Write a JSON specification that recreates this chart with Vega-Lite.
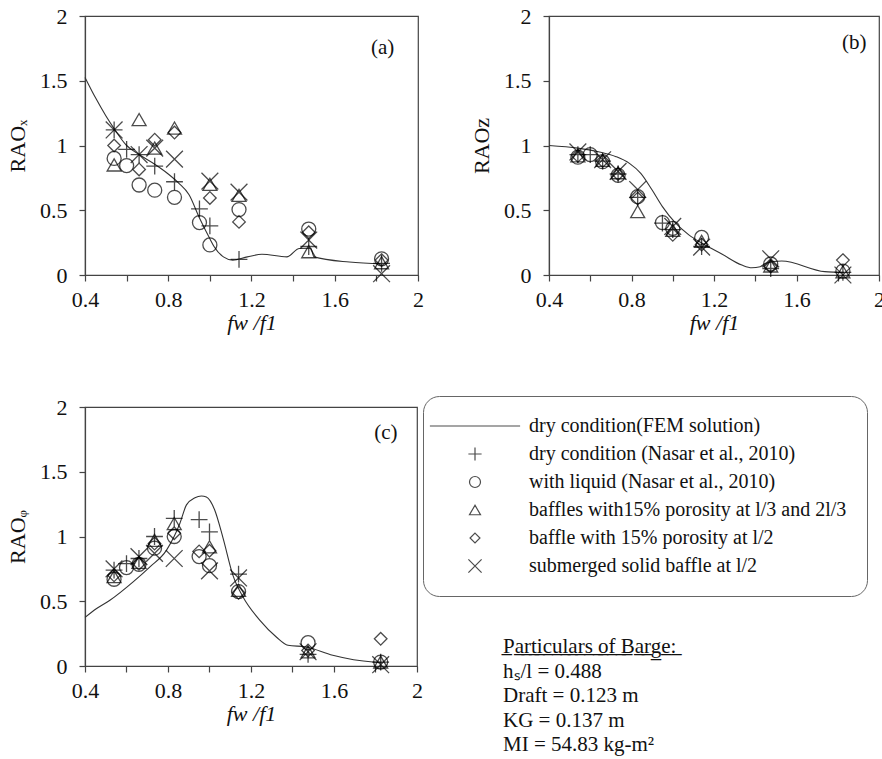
{
  "$schema": "https://vega.github.io/schema/vega-lite/v6.json",
  "autosize": {"type": "none"},
  "padding": {"left": 85, "top": 16, "right": 797, "bottom": 743},
  "background": "white",
  "config": {
    "font": "Liberation Serif",
    "view": {"stroke": "#444", "strokeWidth": 1.2},
    "axis": {
      "labelFont": "Liberation Serif", "labelFontSize": 22, "labelColor": "#111", "labelFlush": false, "labelOverlap": false,
      "titleFont": "Liberation Serif", "titleFontSize": 22, "titleFontWeight": "normal", "titleColor": "#111",
      "domainColor": "#444", "domainWidth": 1.2, "tickColor": "#444", "tickWidth": 1.2, "tickSize": 6,
      "grid": false
    },
    "axisX": {"titlePadding": 2, "labelPadding": 8},
    "axisY": {"titlePadding": 10, "labelPadding": 12}
  },
  "datasets": {
    "fem": [
      {"p": "a", "f": 0.4, "r": 1.526}, {"p": "a", "f": 0.45, "r": 1.37}, {"p": "a", "f": 0.5, "r": 1.23},
      {"p": "a", "f": 0.54, "r": 1.13}, {"p": "a", "f": 0.6, "r": 1.0}, {"p": "a", "f": 0.66, "r": 0.93},
      {"p": "a", "f": 0.735, "r": 0.855}, {"p": "a", "f": 0.8, "r": 0.78}, {"p": "a", "f": 0.85, "r": 0.71},
      {"p": "a", "f": 0.9, "r": 0.62}, {"p": "a", "f": 0.95, "r": 0.44}, {"p": "a", "f": 1.0, "r": 0.28},
      {"p": "a", "f": 1.02, "r": 0.22}, {"p": "a", "f": 1.065, "r": 0.14}, {"p": "a", "f": 1.11, "r": 0.115},
      {"p": "a", "f": 1.18, "r": 0.14}, {"p": "a", "f": 1.25, "r": 0.16}, {"p": "a", "f": 1.37, "r": 0.14},
      {"p": "a", "f": 1.43, "r": 0.205}, {"p": "a", "f": 1.485, "r": 0.206}, {"p": "a", "f": 1.5, "r": 0.14},
      {"p": "a", "f": 1.67, "r": 0.1}, {"p": "a", "f": 1.83, "r": 0.085},

      {"p": "b", "f": 0.4, "r": 1.0}, {"p": "b", "f": 0.54, "r": 0.98}, {"p": "b", "f": 0.64, "r": 0.952},
      {"p": "b", "f": 0.725, "r": 0.914}, {"p": "b", "f": 0.79, "r": 0.862}, {"p": "b", "f": 0.845, "r": 0.785},
      {"p": "b", "f": 0.9, "r": 0.656}, {"p": "b", "f": 0.95, "r": 0.528}, {"p": "b", "f": 1.014, "r": 0.4},
      {"p": "b", "f": 1.078, "r": 0.31}, {"p": "b", "f": 1.142, "r": 0.245}, {"p": "b", "f": 1.24, "r": 0.16},
      {"p": "b", "f": 1.335, "r": 0.077}, {"p": "b", "f": 1.383, "r": 0.056}, {"p": "b", "f": 1.424, "r": 0.064},
      {"p": "b", "f": 1.45, "r": 0.09}, {"p": "b", "f": 1.528, "r": 0.108}, {"p": "b", "f": 1.737, "r": 0.026},
      {"p": "b", "f": 1.785, "r": 0.022}, {"p": "b", "f": 1.83, "r": 0.02},

      {"p": "c", "f": 0.4, "r": 0.375}, {"p": "c", "f": 0.456, "r": 0.444}, {"p": "c", "f": 0.52, "r": 0.508},
      {"p": "c", "f": 0.632, "r": 0.65}, {"p": "c", "f": 0.713, "r": 0.766}, {"p": "c", "f": 0.793, "r": 0.895},
      {"p": "c", "f": 0.857, "r": 1.1}, {"p": "c", "f": 0.889, "r": 1.244}, {"p": "c", "f": 0.93, "r": 1.3},
      {"p": "c", "f": 0.961, "r": 1.313}, {"p": "c", "f": 0.985, "r": 1.305}, {"p": "c", "f": 1.025, "r": 1.205},
      {"p": "c", "f": 1.065, "r": 0.99}, {"p": "c", "f": 1.113, "r": 0.7}, {"p": "c", "f": 1.161, "r": 0.534},
      {"p": "c", "f": 1.242, "r": 0.354}, {"p": "c", "f": 1.322, "r": 0.224}, {"p": "c", "f": 1.378, "r": 0.16},
      {"p": "c", "f": 1.466, "r": 0.147}, {"p": "c", "f": 1.594, "r": 0.083}, {"p": "c", "f": 1.787, "r": 0.031},
      {"p": "c", "f": 1.83, "r": 0.028}
    ],
    "pts": [
      {"p": "a", "s": "dry condition (Nasar et al., 2010)", "f": 0.54, "r": 1.12},
      {"p": "a", "s": "dry condition (Nasar et al., 2010)", "f": 0.6, "r": 0.97},
      {"p": "a", "s": "dry condition (Nasar et al., 2010)", "f": 0.66, "r": 0.93},
      {"p": "a", "s": "dry condition (Nasar et al., 2010)", "f": 0.735, "r": 0.84},
      {"p": "a", "s": "dry condition (Nasar et al., 2010)", "f": 0.83, "r": 0.72},
      {"p": "a", "s": "dry condition (Nasar et al., 2010)", "f": 0.95, "r": 0.51},
      {"p": "a", "s": "dry condition (Nasar et al., 2010)", "f": 1.0, "r": 0.38},
      {"p": "a", "s": "dry condition (Nasar et al., 2010)", "f": 1.14, "r": 0.12},
      {"p": "a", "s": "dry condition (Nasar et al., 2010)", "f": 1.475, "r": 0.22},
      {"p": "a", "s": "dry condition (Nasar et al., 2010)", "f": 1.825, "r": 0.09},
      {"p": "a", "s": "with liquid (Nasar et al., 2010)", "f": 0.54, "r": 0.9},
      {"p": "a", "s": "with liquid (Nasar et al., 2010)", "f": 0.6, "r": 0.845},
      {"p": "a", "s": "with liquid (Nasar et al., 2010)", "f": 0.66, "r": 0.695},
      {"p": "a", "s": "with liquid (Nasar et al., 2010)", "f": 0.735, "r": 0.655},
      {"p": "a", "s": "with liquid (Nasar et al., 2010)", "f": 0.83, "r": 0.6},
      {"p": "a", "s": "with liquid (Nasar et al., 2010)", "f": 0.95, "r": 0.405},
      {"p": "a", "s": "with liquid (Nasar et al., 2010)", "f": 1.0, "r": 0.232},
      {"p": "a", "s": "with liquid (Nasar et al., 2010)", "f": 1.14, "r": 0.505},
      {"p": "a", "s": "with liquid (Nasar et al., 2010)", "f": 1.475, "r": 0.355},
      {"p": "a", "s": "with liquid (Nasar et al., 2010)", "f": 1.825, "r": 0.125},
      {"p": "a", "s": "baffles with15% porosity at l/3 and 2l/3", "f": 0.54, "r": 0.85},
      {"p": "a", "s": "baffles with15% porosity at l/3 and 2l/3", "f": 0.66, "r": 1.2},
      {"p": "a", "s": "baffles with15% porosity at l/3 and 2l/3", "f": 0.735, "r": 0.98},
      {"p": "a", "s": "baffles with15% porosity at l/3 and 2l/3", "f": 0.83, "r": 1.135},
      {"p": "a", "s": "baffles with15% porosity at l/3 and 2l/3", "f": 1.0, "r": 0.7},
      {"p": "a", "s": "baffles with15% porosity at l/3 and 2l/3", "f": 1.14, "r": 0.615},
      {"p": "a", "s": "baffles with15% porosity at l/3 and 2l/3", "f": 1.475, "r": 0.18},
      {"p": "a", "s": "baffles with15% porosity at l/3 and 2l/3", "f": 1.825, "r": 0.095},
      {"p": "a", "s": "baffle with 15% porosity at l/2", "f": 0.54, "r": 1.0},
      {"p": "a", "s": "baffle with 15% porosity at l/2", "f": 0.66, "r": 0.815},
      {"p": "a", "s": "baffle with 15% porosity at l/2", "f": 0.735, "r": 1.045},
      {"p": "a", "s": "baffle with 15% porosity at l/2", "f": 0.83, "r": 1.1},
      {"p": "a", "s": "baffle with 15% porosity at l/2", "f": 1.0, "r": 0.595},
      {"p": "a", "s": "baffle with 15% porosity at l/2", "f": 1.14, "r": 0.41},
      {"p": "a", "s": "baffle with 15% porosity at l/2", "f": 1.475, "r": 0.33},
      {"p": "a", "s": "baffle with 15% porosity at l/2", "f": 1.825, "r": 0.115},
      {"p": "a", "s": "submerged solid baffle at l/2", "f": 0.54, "r": 1.12},
      {"p": "a", "s": "submerged solid baffle at l/2", "f": 0.66, "r": 0.93},
      {"p": "a", "s": "submerged solid baffle at l/2", "f": 0.735, "r": 0.98},
      {"p": "a", "s": "submerged solid baffle at l/2", "f": 0.83, "r": 0.895},
      {"p": "a", "s": "submerged solid baffle at l/2", "f": 1.0, "r": 0.725},
      {"p": "a", "s": "submerged solid baffle at l/2", "f": 1.14, "r": 0.64},
      {"p": "a", "s": "submerged solid baffle at l/2", "f": 1.475, "r": 0.27},
      {"p": "a", "s": "submerged solid baffle at l/2", "f": 1.825, "r": 0.01},

      {"p": "b", "s": "dry condition (Nasar et al., 2010)", "f": 0.54, "r": 0.93},
      {"p": "b", "s": "dry condition (Nasar et al., 2010)", "f": 0.6, "r": 0.93},
      {"p": "b", "s": "dry condition (Nasar et al., 2010)", "f": 0.66, "r": 0.88},
      {"p": "b", "s": "dry condition (Nasar et al., 2010)", "f": 0.735, "r": 0.78},
      {"p": "b", "s": "dry condition (Nasar et al., 2010)", "f": 0.83, "r": 0.6},
      {"p": "b", "s": "dry condition (Nasar et al., 2010)", "f": 0.95, "r": 0.4},
      {"p": "b", "s": "dry condition (Nasar et al., 2010)", "f": 1.0, "r": 0.35},
      {"p": "b", "s": "dry condition (Nasar et al., 2010)", "f": 1.14, "r": 0.22},
      {"p": "b", "s": "dry condition (Nasar et al., 2010)", "f": 1.475, "r": 0.05},
      {"p": "b", "s": "dry condition (Nasar et al., 2010)", "f": 1.825, "r": 0.02},
      {"p": "b", "s": "with liquid (Nasar et al., 2010)", "f": 0.54, "r": 0.91},
      {"p": "b", "s": "with liquid (Nasar et al., 2010)", "f": 0.6, "r": 0.93},
      {"p": "b", "s": "with liquid (Nasar et al., 2010)", "f": 0.66, "r": 0.875},
      {"p": "b", "s": "with liquid (Nasar et al., 2010)", "f": 0.735, "r": 0.77},
      {"p": "b", "s": "with liquid (Nasar et al., 2010)", "f": 0.83, "r": 0.605},
      {"p": "b", "s": "with liquid (Nasar et al., 2010)", "f": 0.95, "r": 0.405},
      {"p": "b", "s": "with liquid (Nasar et al., 2010)", "f": 1.0, "r": 0.36},
      {"p": "b", "s": "with liquid (Nasar et al., 2010)", "f": 1.14, "r": 0.29},
      {"p": "b", "s": "with liquid (Nasar et al., 2010)", "f": 1.475, "r": 0.085},
      {"p": "b", "s": "with liquid (Nasar et al., 2010)", "f": 1.825, "r": 0.03},
      {"p": "b", "s": "baffles with15% porosity at l/3 and 2l/3", "f": 0.54, "r": 0.92},
      {"p": "b", "s": "baffles with15% porosity at l/3 and 2l/3", "f": 0.66, "r": 0.885},
      {"p": "b", "s": "baffles with15% porosity at l/3 and 2l/3", "f": 0.735, "r": 0.79},
      {"p": "b", "s": "baffles with15% porosity at l/3 and 2l/3", "f": 0.83, "r": 0.49},
      {"p": "b", "s": "baffles with15% porosity at l/3 and 2l/3", "f": 1.0, "r": 0.345},
      {"p": "b", "s": "baffles with15% porosity at l/3 and 2l/3", "f": 1.14, "r": 0.26},
      {"p": "b", "s": "baffles with15% porosity at l/3 and 2l/3", "f": 1.475, "r": 0.07},
      {"p": "b", "s": "baffles with15% porosity at l/3 and 2l/3", "f": 1.825, "r": 0.025},
      {"p": "b", "s": "baffle with 15% porosity at l/2", "f": 0.54, "r": 0.92},
      {"p": "b", "s": "baffle with 15% porosity at l/2", "f": 0.66, "r": 0.88},
      {"p": "b", "s": "baffle with 15% porosity at l/2", "f": 0.735, "r": 0.78},
      {"p": "b", "s": "baffle with 15% porosity at l/2", "f": 0.83, "r": 0.59},
      {"p": "b", "s": "baffle with 15% porosity at l/2", "f": 1.0, "r": 0.31},
      {"p": "b", "s": "baffle with 15% porosity at l/2", "f": 1.14, "r": 0.235},
      {"p": "b", "s": "baffle with 15% porosity at l/2", "f": 1.475, "r": 0.065},
      {"p": "b", "s": "baffle with 15% porosity at l/2", "f": 1.825, "r": 0.115},
      {"p": "b", "s": "submerged solid baffle at l/2", "f": 0.54, "r": 0.95},
      {"p": "b", "s": "submerged solid baffle at l/2", "f": 0.66, "r": 0.89},
      {"p": "b", "s": "submerged solid baffle at l/2", "f": 0.735, "r": 0.8},
      {"p": "b", "s": "submerged solid baffle at l/2", "f": 0.83, "r": 0.66},
      {"p": "b", "s": "submerged solid baffle at l/2", "f": 1.0, "r": 0.375},
      {"p": "b", "s": "submerged solid baffle at l/2", "f": 1.14, "r": 0.215},
      {"p": "b", "s": "submerged solid baffle at l/2", "f": 1.475, "r": 0.125},
      {"p": "b", "s": "submerged solid baffle at l/2", "f": 1.825, "r": 0.0},

      {"p": "c", "s": "dry condition (Nasar et al., 2010)", "f": 0.54, "r": 0.74},
      {"p": "c", "s": "dry condition (Nasar et al., 2010)", "f": 0.6, "r": 0.79},
      {"p": "c", "s": "dry condition (Nasar et al., 2010)", "f": 0.66, "r": 0.83},
      {"p": "c", "s": "dry condition (Nasar et al., 2010)", "f": 0.735, "r": 1.0},
      {"p": "c", "s": "dry condition (Nasar et al., 2010)", "f": 0.83, "r": 1.14},
      {"p": "c", "s": "dry condition (Nasar et al., 2010)", "f": 0.95, "r": 1.13},
      {"p": "c", "s": "dry condition (Nasar et al., 2010)", "f": 1.0, "r": 1.035},
      {"p": "c", "s": "dry condition (Nasar et al., 2010)", "f": 1.14, "r": 0.71},
      {"p": "c", "s": "dry condition (Nasar et al., 2010)", "f": 1.475, "r": 0.09},
      {"p": "c", "s": "dry condition (Nasar et al., 2010)", "f": 1.825, "r": 0.03},
      {"p": "c", "s": "with liquid (Nasar et al., 2010)", "f": 0.54, "r": 0.67},
      {"p": "c", "s": "with liquid (Nasar et al., 2010)", "f": 0.6, "r": 0.76},
      {"p": "c", "s": "with liquid (Nasar et al., 2010)", "f": 0.66, "r": 0.785},
      {"p": "c", "s": "with liquid (Nasar et al., 2010)", "f": 0.735, "r": 0.91},
      {"p": "c", "s": "with liquid (Nasar et al., 2010)", "f": 0.83, "r": 1.0},
      {"p": "c", "s": "with liquid (Nasar et al., 2010)", "f": 0.95, "r": 0.845},
      {"p": "c", "s": "with liquid (Nasar et al., 2010)", "f": 1.0, "r": 0.775},
      {"p": "c", "s": "with liquid (Nasar et al., 2010)", "f": 1.14, "r": 0.575},
      {"p": "c", "s": "with liquid (Nasar et al., 2010)", "f": 1.475, "r": 0.18},
      {"p": "c", "s": "with liquid (Nasar et al., 2010)", "f": 1.825, "r": 0.03},
      {"p": "c", "s": "baffles with15% porosity at l/3 and 2l/3", "f": 0.54, "r": 0.69},
      {"p": "c", "s": "baffles with15% porosity at l/3 and 2l/3", "f": 0.66, "r": 0.8},
      {"p": "c", "s": "baffles with15% porosity at l/3 and 2l/3", "f": 0.735, "r": 0.97},
      {"p": "c", "s": "baffles with15% porosity at l/3 and 2l/3", "f": 0.83, "r": 1.1},
      {"p": "c", "s": "baffles with15% porosity at l/3 and 2l/3", "f": 1.0, "r": 0.92},
      {"p": "c", "s": "baffles with15% porosity at l/3 and 2l/3", "f": 1.14, "r": 0.585},
      {"p": "c", "s": "baffles with15% porosity at l/3 and 2l/3", "f": 1.475, "r": 0.11},
      {"p": "c", "s": "baffles with15% porosity at l/3 and 2l/3", "f": 1.825, "r": 0.03},
      {"p": "c", "s": "baffle with 15% porosity at l/2", "f": 0.54, "r": 0.7},
      {"p": "c", "s": "baffle with 15% porosity at l/2", "f": 0.66, "r": 0.79},
      {"p": "c", "s": "baffle with 15% porosity at l/2", "f": 0.735, "r": 0.945},
      {"p": "c", "s": "baffle with 15% porosity at l/2", "f": 0.83, "r": 1.025},
      {"p": "c", "s": "baffle with 15% porosity at l/2", "f": 0.95, "r": 0.885},
      {"p": "c", "s": "baffle with 15% porosity at l/2", "f": 1.0, "r": 0.89},
      {"p": "c", "s": "baffle with 15% porosity at l/2", "f": 1.14, "r": 0.565},
      {"p": "c", "s": "baffle with 15% porosity at l/2", "f": 1.475, "r": 0.12},
      {"p": "c", "s": "baffle with 15% porosity at l/2", "f": 1.825, "r": 0.21},
      {"p": "c", "s": "submerged solid baffle at l/2", "f": 0.54, "r": 0.75},
      {"p": "c", "s": "submerged solid baffle at l/2", "f": 0.66, "r": 0.845},
      {"p": "c", "s": "submerged solid baffle at l/2", "f": 0.735, "r": 0.87},
      {"p": "c", "s": "submerged solid baffle at l/2", "f": 0.83, "r": 0.83},
      {"p": "c", "s": "submerged solid baffle at l/2", "f": 1.0, "r": 0.735},
      {"p": "c", "s": "submerged solid baffle at l/2", "f": 1.14, "r": 0.68},
      {"p": "c", "s": "submerged solid baffle at l/2", "f": 1.475, "r": 0.11},
      {"p": "c", "s": "submerged solid baffle at l/2", "f": 1.825, "r": 0.01}
    ],
    "barge": [
      {"line": 1, "text": "P̲a̲r̲t̲i̲c̲u̲l̲a̲r̲s̲ ̲o̲f̲ ̲B̲a̲r̲g̲e̲:̲"},
      {"line": 2, "text": "hₛ/l = 0.488"},
      {"line": 3, "text": "Draft = 0.123 m"},
      {"line": 4, "text": "KG = 0.137 m"},
      {"line": 5, "text": "MI = 54.83 kg-m²"}
    ]
  },
  "columns": 2,
  "spacing": {"row": 132, "column": 131},
  "bounds": "flush",
  "concat": [
    {
      "width": 333, "height": 259,
      "layer": [
        {
          "data": {"name": "fem"},
          "transform": [{"filter": "datum.p === 'a'"}],
          "mark": {"type": "line", "color": "#333", "strokeWidth": 1.1, "interpolate": "monotone"},
          "encoding": {
            "x": {"field": "f", "type": "quantitative", "title": "fw /f1",
              "scale": {"domain": [0.4, 2], "nice": false, "zero": false},
              "axis": {"values": [0.4, 0.6, 0.8, 1.0, 1.2, 1.4, 1.6, 1.8, 2.0], "titleFontStyle": "italic",
                "labelExpr": "round(datum.value * 10) % 4 == 0 ? format(datum.value, '~g') : ''"}},
            "y": {"field": "r", "type": "quantitative", "title": "RAOₓ",
              "scale": {"domain": [0, 2], "nice": false},
              "axis": {"values": [0, 0.25, 0.5, 0.75, 1, 1.25, 1.5, 1.75, 2],
                "labelExpr": "round(datum.value * 4) % 2 == 0 ? format(datum.value, '~g') : ''"}}
          }
        },
        {
          "data": {"name": "pts"},
          "transform": [{"filter": "datum.p === 'a'"}],
          "mark": {"type": "point", "filled": false, "color": "black", "size": 196, "strokeWidth": 1.3},
          "encoding": {
            "x": {"field": "f", "type": "quantitative"},
            "y": {"field": "r", "type": "quantitative"},
            "shape": {"field": "s", "type": "nominal",
              "scale": {
                "domain": ["dry condition(FEM solution)", "dry condition (Nasar et al., 2010)", "with liquid (Nasar et al., 2010)", "baffles with15% porosity at l/3 and 2l/3", "baffle with 15% porosity at l/2", "submerged solid baffle at l/2"],
                "range": ["M-8.2,0L8.2,0", "M-1.2,0L1.2,0M0,-1.2L0,1.2", "circle", "triangle-up", "M0,-0.9L0.9,0L0,0.9L-0.9,0Z", "M-1.2,-1.2L1.2,1.2M-1.2,1.2L1.2,-1.2"]
              },
              "legend": {
                "orient": "none", "legendX": 338, "legendY": 380, "title": null,
                "strokeColor": "#666", "cornerRadius": 16, "padding": 20,
                "labelFont": "Liberation Serif", "labelFontSize": 20, "labelColor": "#111", "labelLimit": 400,
                "symbolOffset": 22, "labelOffset": 44, "symbolSize": 121, "symbolStrokeWidth": 1.2, "symbolStrokeColor": "black",
                "rowPadding": 8
              }
            }
          }
        },
        {
          "data": {"values": [{"label": "(a)"}]},
          "mark": {"type": "text", "fontSize": 21, "font": "Liberation Serif", "color": "#111"},
          "encoding": {"x": {"datum": 1.83}, "y": {"datum": 1.75}, "text": {"field": "label"}}
        }
      ]
    },
    {
      "width": 330, "height": 259,
      "layer": [
        {
          "data": {"name": "fem"},
          "transform": [{"filter": "datum.p === 'b'"}],
          "mark": {"type": "line", "color": "#333", "strokeWidth": 1.1, "interpolate": "monotone"},
          "encoding": {
            "x": {"field": "f", "type": "quantitative", "title": "fw /f1",
              "scale": {"domain": [0.4, 2], "nice": false, "zero": false},
              "axis": {"values": [0.4, 0.6, 0.8, 1.0, 1.2, 1.4, 1.6, 1.8, 2.0], "titleFontStyle": "italic",
                "labelExpr": "round(datum.value * 10) % 4 == 0 ? format(datum.value, '~g') : ''"}},
            "y": {"field": "r", "type": "quantitative", "title": "RAOᴢ",
              "scale": {"domain": [0, 2], "nice": false},
              "axis": {"values": [0, 0.25, 0.5, 0.75, 1, 1.25, 1.5, 1.75, 2],
                "labelExpr": "round(datum.value * 4) % 2 == 0 ? format(datum.value, '~g') : ''"}}
          }
        },
        {
          "data": {"name": "pts"},
          "transform": [{"filter": "datum.p === 'b'"}],
          "mark": {"type": "point", "filled": false, "color": "black", "size": 196, "strokeWidth": 1.3},
          "encoding": {
            "x": {"field": "f", "type": "quantitative"},
            "y": {"field": "r", "type": "quantitative"},
            "shape": {"field": "s", "type": "nominal"}
          }
        },
        {
          "data": {"values": [{"label": "(b)"}]},
          "mark": {"type": "text", "fontSize": 21, "font": "Liberation Serif", "color": "#111"},
          "encoding": {"x": {"datum": 1.88}, "y": {"datum": 1.79}, "text": {"field": "label"}}
        }
      ]
    },
    {
      "width": 332, "height": 259,
      "layer": [
        {
          "data": {"name": "fem"},
          "transform": [{"filter": "datum.p === 'c'"}],
          "mark": {"type": "line", "color": "#333", "strokeWidth": 1.1, "interpolate": "monotone"},
          "encoding": {
            "x": {"field": "f", "type": "quantitative", "title": "fw /f1",
              "scale": {"domain": [0.4, 2], "nice": false, "zero": false},
              "axis": {"values": [0.4, 0.6, 0.8, 1.0, 1.2, 1.4, 1.6, 1.8, 2.0], "titleFontStyle": "italic",
                "labelExpr": "round(datum.value * 10) % 4 == 0 ? format(datum.value, '~g') : ''"}},
            "y": {"field": "r", "type": "quantitative", "title": "RAOᵩ",
              "scale": {"domain": [0, 2], "nice": false},
              "axis": {"values": [0, 0.25, 0.5, 0.75, 1, 1.25, 1.5, 1.75, 2],
                "labelExpr": "round(datum.value * 4) % 2 == 0 ? format(datum.value, '~g') : ''"}}
          }
        },
        {
          "data": {"name": "pts"},
          "transform": [{"filter": "datum.p === 'c'"}],
          "mark": {"type": "point", "filled": false, "color": "black", "size": 196, "strokeWidth": 1.3},
          "encoding": {
            "x": {"field": "f", "type": "quantitative"},
            "y": {"field": "r", "type": "quantitative"},
            "shape": {"field": "s", "type": "nominal"}
          }
        },
        {
          "data": {"values": [{"label": "(c)"}]},
          "mark": {"type": "text", "fontSize": 21, "font": "Liberation Serif", "color": "#111"},
          "encoding": {"x": {"datum": 1.85}, "y": {"datum": 1.8}, "text": {"field": "label"}}
        }
      ]
    },
    {
      "width": 250, "height": 338,
      "view": {"stroke": null},
      "data": {"name": "barge"},
      "mark": {"type": "text", "align": "left", "baseline": "middle", "fontSize": 21, "font": "Liberation Serif", "color": "#111", "dx": -46},
      "encoding": {
        "x": {"value": 0},
        "y": {"field": "line", "type": "ordinal", "scale": {"type": "point", "padding": 0, "range": [240, 338]}, "axis": null},
        "text": {"field": "text"}
      }
    }
  ]
}
